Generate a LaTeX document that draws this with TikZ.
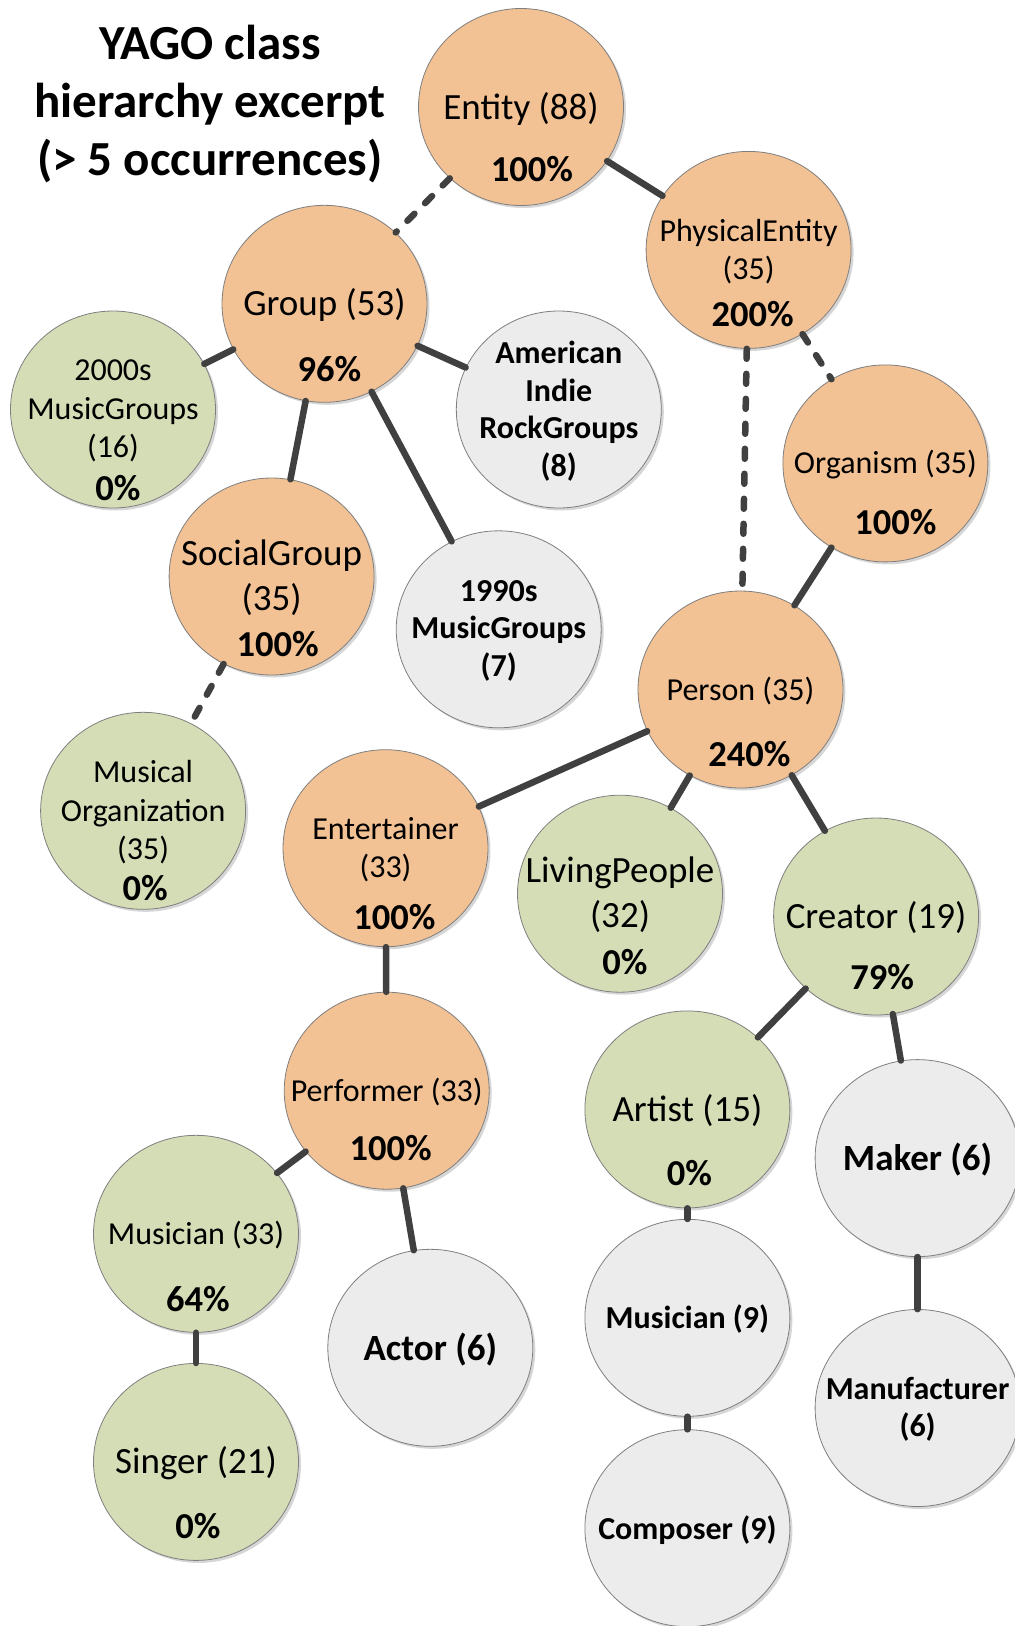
\documentclass[tikz,border=0pt]{standalone}
\usepackage{fontspec}
\setmainfont{Carlito}
\usetikzlibrary{shapes.geometric,shadows}
\definecolor{orgC}{HTML}{F2C194}
\definecolor{grnC}{HTML}{D5DDB6}
\definecolor{gryC}{HTML}{ECECEC}
\definecolor{lnkC}{HTML}{404040}
\definecolor{bdrC}{HTML}{7F7F7F}
\begin{document}
\begin{tikzpicture}[x=1pt,y=1pt,
 circ/.style={ellipse, minimum width=205pt, minimum height=197pt, inner sep=0pt, draw=bdrC, line width=0.8pt,
   drop shadow={shadow xshift=2.5pt, shadow yshift=-2.5pt, fill=black, opacity=0.16}},
 org/.style={circ, fill=orgC},
 grn/.style={circ, fill=grnC},
 gry/.style={circ, fill=gryC},
 big/.style={font=\fontsize{37}{45}\selectfont, align=center, inner sep=0pt},
 sml/.style={font=\fontsize{32}{38.5}\selectfont, align=center, inner sep=0pt},
 bigb/.style={font=\bfseries\fontsize{37}{45}\selectfont, align=center, inner sep=0pt},
 smlb/.style={font=\bfseries\fontsize{32}{37.5}\selectfont, align=center, inner sep=0pt},
 pct/.style={font=\bfseries\fontsize{36.5}{40}\selectfont, inner sep=0pt},
 ttl/.style={font=\bfseries\fontsize{49}{58}\selectfont, align=center, inner sep=0pt},
 link/.style={draw=lnkC, line width=6.5pt, line cap=round},
 dlink/.style={link, dash pattern=on 10pt off 15pt},
]
\useasboundingbox (0,0) rectangle (1015,-1626);

% title
\node[ttl] (title) at (210,-104) {YAGO class\\hierarchy excerpt\\(> 5 occurrences)};

% circles
\node[org] (entity)   at (521,-107) {};
\node[org] (phys)     at (748.6,-249.9) {};
\node[org] (group)    at (324.5,-303.8) {};
\node[grn] (g2000)    at (113,-409.5) {};
\node[gry] (amind)    at (558.8,-409.5) {};
\node[org] (organism) at (885.4,-463.4) {};
\node[org] (social)   at (271.6,-576.5) {};
\node[gry] (g1990)    at (498.7,-629.3) {};
\node[org] (person)   at (740.5,-689.5) {};
\node[grn] (musorg)   at (143.1,-810.8) {};
\node[org] (entert)   at (385.5,-848.2) {};
\node[grn] (living)   at (620,-893.7) {};
\node[grn] (creator)  at (876.1,-916.5) {};
\node[org] (perf)     at (386.7,-1090.7) {};
\node[grn] (artist)   at (687.4,-1109.4) {};
\node[gry] (maker)    at (917.6,-1158.1) {};
\node[grn] (mus33)    at (196,-1233.8) {};
\node[gry] (actor)    at (430.3,-1347.8) {};
\node[gry] (mus9)     at (687.4,-1317.8) {};
\node[gry] (manuf)    at (917.6,-1408) {};
\node[grn] (singer)   at (196,-1461.9) {};
\node[gry] (composer) at (687.4,-1528.2) {};

% connectors
\draw[dlink] (entity) -- (group);
\draw[link]  (entity) -- (phys);
\draw[dlink] (phys) -- (person);
\draw[dlink] (phys) -- (organism);
\draw[link]  (group) -- (g2000);
\draw[link]  (group) -- (amind);
\draw[link]  (group) -- (social);
\draw[link]  (group) -- (g1990);
\draw[link]  (organism) -- (person);
\draw[dlink] (social) -- (musorg);
\draw[link]  (person) -- (entert);
\draw[link]  (person) -- (living);
\draw[link]  (person) -- (creator);
\draw[link]  (entert) -- (perf);
\draw[link]  (creator) -- (artist);
\draw[link]  (creator) -- (maker);
\draw[link]  (perf) -- (mus33);
\draw[link]  (perf) -- (actor);
\draw[link]  (mus33) -- (singer);
\draw[link]  (artist) -- (mus9);
\draw[link]  (maker) -- (manuf);
\draw[link]  (mus9) -- (composer);

% labels
\node[big]  (entity-l)   at ([yshift=-1.5]entity.center)   {Entity (88)};
\node[sml]  (phys-l)     at ([yshift=-1.5]phys.center)     {PhysicalEntity\\(35)};
\node[big]  (group-l)    at ([yshift=-1.5]group.center)    {Group (53)};
\node[sml]  (g2000-l)    at ([yshift=-1.5]g2000.center)    {2000s\\MusicGroups\\(16)};
\node[smlb] (amind-l)    at ([yshift=-1.5]amind.center)    {American\\Indie\\RockGroups\\(8)};
\node[sml]  (organism-l) at ([yshift=-1.5]organism.center) {Organism (35)};
\node[big]  (social-l)   at ([yshift=-1.5]social.center)   {SocialGroup\\(35)};
\node[smlb] (g1990-l)    at ([yshift=-1.5]g1990.center)    {1990s\\MusicGroups\\(7)};
\node[sml]  (person-l)   at ([yshift=-1.5]person.center)   {Person (35)};
\node[sml]  (musorg-l)   at ([yshift=-1.5]musorg.center)   {Musical\\Organization\\(35)};
\node[sml]  (entert-l)   at ([yshift=-1.5]entert.center)   {Entertainer\\(33)};
\node[big]  (living-l)   at ([yshift=-1.5]living.center)   {LivingPeople\\(32)};
\node[big]  (creator-l)  at ([yshift=-1.5]creator.center)  {Creator (19)};
\node[sml]  (perf-l)     at ([yshift=-1.5]perf.center)     {Performer (33)};
\node[big]  (artist-l)   at ([yshift=-1.5]artist.center)   {Artist (15)};
\node[bigb] (maker-l)    at ([yshift=-1.5]maker.center)    {Maker (6)};
\node[sml]  (mus33-l)    at ([yshift=-1.5]mus33.center)    {Musician (33)};
\node[bigb] (actor-l)    at ([yshift=-1.5]actor.center)    {Actor (6)};
\node[smlb] (mus9-l)     at ([yshift=-1.5]mus9.center)     {Musician (9)};
\node[smlb] (manuf-l)    at ([yshift=-1.5]manuf.center)    {Manufacturer\\(6)};
\node[big]  (singer-l)   at ([yshift=-1.5]singer.center)   {Singer (21)};
\node[smlb] (composer-l) at ([yshift=-1.5]composer.center) {Composer (9)};

% percentages
\node[pct] (entity-p)   at ([shift={(11,-62)}]entity.center)   {100\%};
\node[pct] (phys-p)     at ([shift={(4,-64)}]phys.center)      {200\%};
\node[pct] (group-p)    at ([shift={(5,-65)}]group.center)     {96\%};
\node[pct] (g2000-p)    at ([shift={(5,-79)}]g2000.center)     {0\%};
\node[pct] (organism-p) at ([shift={(10,-59)}]organism.center) {100\%};
\node[pct] (social-p)   at ([shift={(6,-68)}]social.center)    {100\%};
\node[pct] (person-p)   at ([shift={(9,-65)}]person.center)    {240\%};
\node[pct] (musorg-p)   at ([shift={(2,-77)}]musorg.center)    {0\%};
\node[pct] (entert-p)   at ([shift={(9,-69)}]entert.center)    {100\%};
\node[pct] (living-p)   at ([shift={(5,-68)}]living.center)    {0\%};
\node[pct] (creator-p)  at ([shift={(6,-61)}]creator.center)   {79\%};
\node[pct] (perf-p)     at ([shift={(4,-57)}]perf.center)      {100\%};
\node[pct] (artist-p)   at ([shift={(2,-64)}]artist.center)    {0\%};
\node[pct] (mus33-p)    at ([shift={(2,-65)}]mus33.center)     {64\%};
\node[pct] (singer-p)   at ([shift={(2,-64)}]singer.center)    {0\%};
\end{tikzpicture}
\end{document}
